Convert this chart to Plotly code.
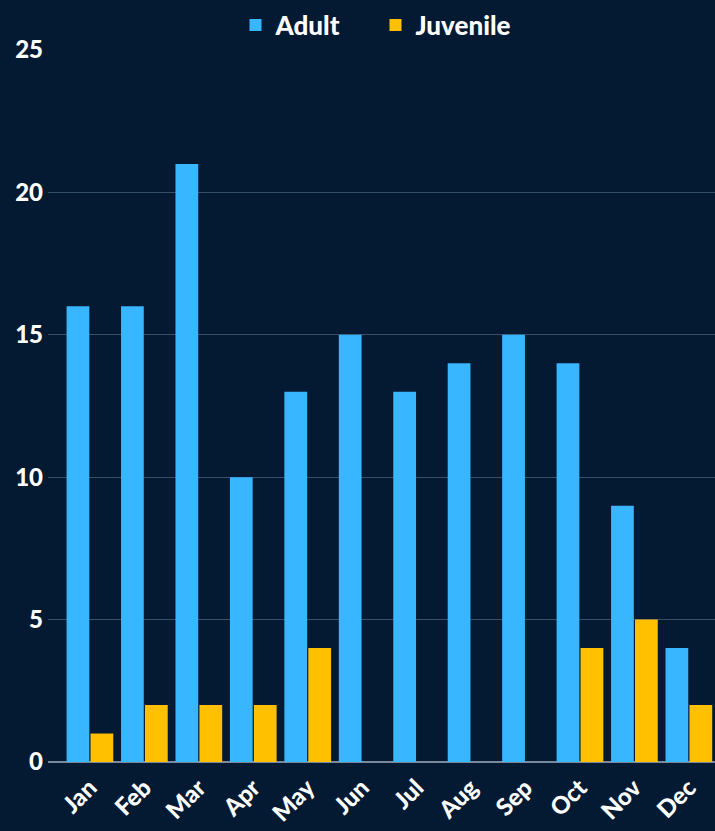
import plotly.graph_objects as go

months = ["Jan", "Feb", "Mar", "Apr", "May", "Jun", "Jul", "Aug", "Sep", "Oct", "Nov", "Dec"]
adult = [16, 16, 21, 10, 13, 15, 13, 14, 15, 14, 9, 4]
juvenile = [1, 2, 2, 2, 4, 0, 0, 0, 0, 4, 5, 2]
y_ticks = [0, 5, 10, 15, 20, 25]

BG = "#041a33"
FONT = "Lato"

fig = go.Figure()
fig.add_trace(go.Bar(name="Adult", x=months, y=adult, marker_color="#38b6ff", marker_line_width=0))
fig.add_trace(go.Bar(name="Juvenile", x=months, y=juvenile, marker_color="#ffc000", marker_line_width=0))

fig.update_layout(
    width=715, height=831,
    paper_bgcolor=BG, plot_bgcolor=BG,
    margin=dict(l=48, r=0, t=50, b=69, autoexpand=False),
    barmode="group", bargap=0.12, bargroupgap=0.05,
    font=dict(family=FONT, color="white", size=20, weight="bold"),
    showlegend=True,
    legend=dict(orientation="h", x=0.491, xanchor="center", y=0.998, yanchor="top", yref="container",
                font=dict(size=26, color="white", family=FONT, weight=900),
                bgcolor="rgba(0,0,0,0)", itemsizing="constant", itemwidth=30,
                entrywidth=95, entrywidthmode="pixels"),
    xaxis=dict(range=[-0.77, 11.48], tickangle=-45, showgrid=False, showline=False,
               tickfont=dict(size=24, color="white", family=FONT, weight=900), ticks="",
               ticklabelstandoff=6),
    yaxis=dict(range=[0, 25], tickvals=y_ticks, showgrid=True, gridcolor="#34506b", gridwidth=1,
               zeroline=True, zerolinecolor="#7a8a9c", zerolinewidth=2,
               tickfont=dict(size=24, color="white", family=FONT, weight=900), ticks="", ticklabelstandoff=4),
)

fig.write_html("out.html", config={"displayModeBar": False},
               post_script="document.body.style.margin='0';document.body.style.overflow='hidden';")
